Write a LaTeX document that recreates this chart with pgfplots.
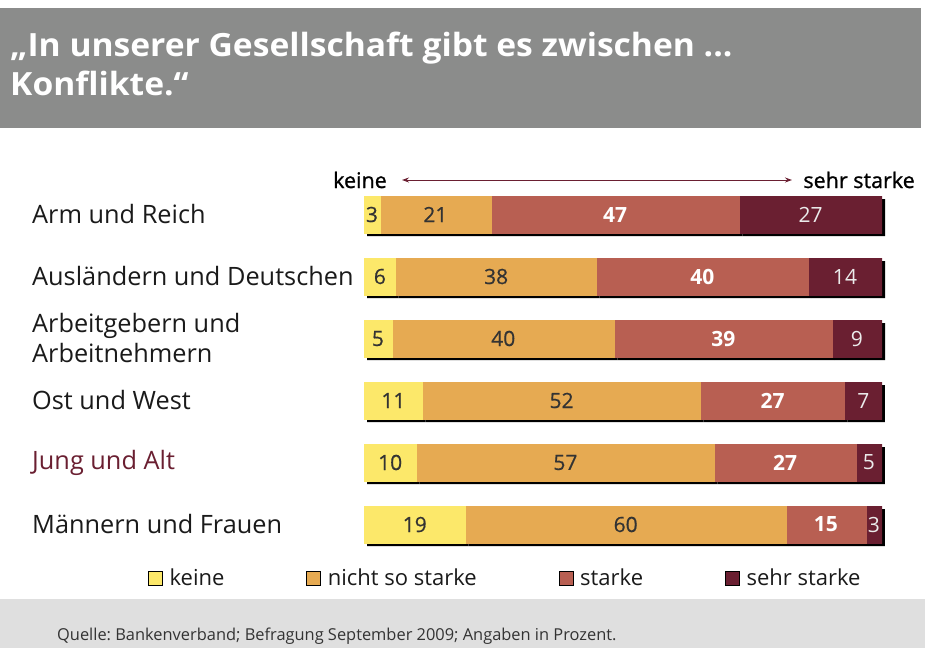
\documentclass[border=0pt]{standalone}
\usepackage{fontspec}
\setmainfont{Open Sans}
\newfontfamily\semifont{Open Sans}[FakeBold=1]
\newfontfamily\medfont{Open Sans}[FakeBold=0.6]
\newfontfamily\titlefont{Open Sans}[FakeStretch=1.05]
\usepackage{pgfplots}
\usepackage{pgfplotstable}
\pgfplotsset{compat=1.18}
\usetikzlibrary{arrows.meta}
\definecolor{keineC}{HTML}{FCE86A}
\definecolor{nichtC}{HTML}{E6AA52}
\definecolor{starkeC}{HTML}{B85F52}
\definecolor{sehrC}{HTML}{6A1F31}
\definecolor{bannerC}{HTML}{8B8C8B}
\definecolor{footerC}{HTML}{DFDFDF}
\definecolor{numdark}{HTML}{333333}
\definecolor{labC}{HTML}{1A1A1A}
\pgfplotstableread{
y keine nicht starke sehr total
5 3 21 47 27 98
4 6 38 40 14 98
3 5 40 39 9 93
2 11 52 27 7 97
1 10 57 27 5 99
0 19 60 15 3 97
}\datatable
\newcommand{\numfont}{\fontsize{21}{24}\selectfont}
\pgfplotsset{
  barbase/.style={
    scale only axis, width=518pt, height=372pt,
    xbar stacked, bar width=37pt,
    xmin=0, xmax=100, ymin=-0.5, ymax=5.5,
    enlargelimits=false,
  },
  seg/.style n args={3}{fill=#2, draw=#2, line width=0.6pt, forget plot,
    visualization depends on={\thisrow{#1} \as \lab},
    nodes near coords={\pgfmathprintnumber{\lab}},
    every node near coord/.style={anchor=center, #3}},
}
\frenchspacing
\begin{document}
\begin{tikzpicture}
\path[use as bounding box] (0,0) rectangle (925pt,-648pt);
\fill[bannerC] (0,-8pt) rectangle (921pt,-128pt);
\fill[footerC] (0,-599pt) rectangle (925pt,-648pt);
\node[anchor=base west, inner sep=0, text=white, font=\titlefont\bfseries\fontsize{32}{39}\selectfont] at (10pt,-56pt) {„In unserer Gesellschaft gibt es zwischen ...};
\node[anchor=base west, inner sep=0, text=white, font=\titlefont\bfseries\fontsize{32}{39}\selectfont] at (10pt,-95pt) {Konflikte.“};
\node[anchor=base west, inner sep=0, text=numdark, font=\fontsize{16.4}{20}\selectfont] at (57pt,-640pt) {Quelle: Bankenverband; Befragung September 2009; Angaben in Prozent.};
\node[anchor=base west, inner sep=0, text=black, font=\semifont\fontsize{21.5}{24}\selectfont] at (333pt,-188pt) {keine};
\node[anchor=base east, inner sep=0, text=black, font=\semifont\fontsize{21.5}{24}\selectfont] at (915pt,-188pt) {sehr starke};
\draw[sehrC, line width=1pt, {Stealth[length=7pt,width=5pt]}-{Stealth[length=7pt,width=5pt]}] (402pt,-180pt) -- (792pt,-180pt);
% shadow layer
\begin{axis}[barbase, at={(367pt,-558.5pt)}, anchor=south west, hide axis]
\addplot[fill=black, draw=none] table[y=y, x expr={\thisrow{keine}/\thisrow{total}*100}] {\datatable};
\addplot[fill=black, draw=none] table[y=y, x expr={\thisrow{nicht}/\thisrow{total}*100}] {\datatable};
\addplot[fill=black, draw=none] table[y=y, x expr={\thisrow{starke}/\thisrow{total}*100}] {\datatable};
\addplot[fill=black, draw=none] table[y=y, x expr={\thisrow{sehr}/\thisrow{total}*100}] {\datatable};
\end{axis}
\begin{axis}[barbase,
  at={(364pt,-555.5pt)}, anchor=south west,
  /pgf/number format/assume math mode=true,
  axis line style={draw=none}, tick style={draw=none},
  xtick=\empty,
  ytick={0,1,2,3,4,5},
  yticklabels={Männern und Frauen, \textcolor{sehrC}{Jung und Alt}, Ost und West, {Arbeitgebern und\\Arbeitnehmern}, Ausländern und Deutschen, Arm und Reich},
  yticklabel style={anchor=west, align=left, inner sep=0pt, xshift=-332pt, text=labC, font=\fontsize{25.3}{30}\selectfont},
  legend columns=4,
  legend style={at={(axis description cs:-0.417,-0.0605)}, anchor=west, draw=none, fill=none,
    inner sep=0pt, nodes={inner sep=0pt},
    font=\fontsize{22}{24}\selectfont, text=labC,
    /tikz/every even column/.append style={column sep=82pt}},
  legend image code/.code={\fill[#1] (0pt,-7pt) rectangle (14pt,7pt); \path (21pt,0pt);},
]
\addplot[seg={keine}{keineC}{text=numdark, font=\medfont\numfont}] table[y=y, x expr={\thisrow{keine}/\thisrow{total}*100}] {\datatable};
\addplot[seg={nicht}{nichtC}{text=numdark, font=\medfont\numfont}] table[y=y, x expr={\thisrow{nicht}/\thisrow{total}*100}] {\datatable};
\addplot[seg={starke}{starkeC}{text=white, font=\numfont\bfseries}] table[y=y, x expr={\thisrow{starke}/\thisrow{total}*100}] {\datatable};
\addplot[seg={sehr}{sehrC}{text=white!92!black, font=\numfont}] table[y=y, x expr={\thisrow{sehr}/\thisrow{total}*100}] {\datatable};
\addlegendimage{fill=keineC}\addlegendentry{keine}
\addlegendimage{fill=nichtC}\addlegendentry{nicht so starke}
\addlegendimage{fill=starkeC}\addlegendentry{starke}
\addlegendimage{fill=sehrC}\addlegendentry{sehr starke}
\end{axis}
\end{tikzpicture}
\end{document}
